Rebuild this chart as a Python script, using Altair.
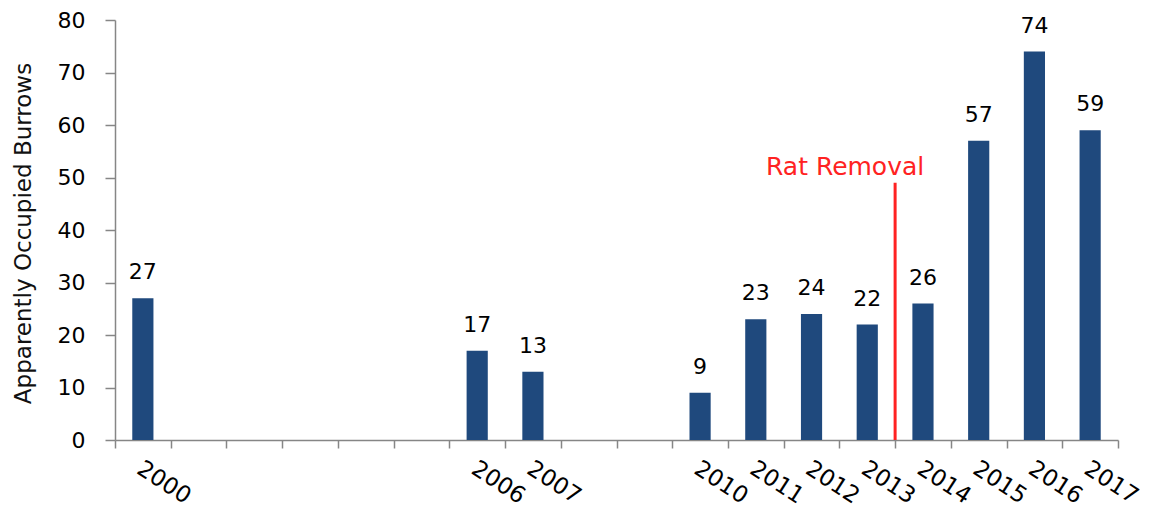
import altair as alt
import pandas as pd

all_years = ["2000", "2001", "2002", "2003", "2004", "2005", "2006", "2007", "2008",
             "2009", "2010", "2011", "2012", "2013", "2014", "2015", "2016", "2017"]
bar_years = ["2000", "2006", "2007", "2010", "2011", "2012", "2013", "2014", "2015", "2016", "2017"]
burrows = [27, 17, 13, 9, 23, 24, 22, 26, 57, 74, 59]
y_ticks = [0, 10, 20, 30, 40, 50, 60, 70, 80]

event_after_year = ["2013"]
event_line_top = [49]
event_label = ["Rat Removal"]
event_label_y = [50.5]

bars_df = pd.DataFrame({"year": bar_years, "aob": burrows})
event_df = pd.DataFrame({"year": event_after_year, "top": event_line_top,
                         "label": event_label, "ly": event_label_y})

FONT = "DejaVu Sans"
GREY = "#868686"
BLUE = "#1F497D"
RED = "#FF2222"
YTITLE = "Apparently Occupied Burrows"

shown = "[" + ",".join("'%s'" % y for y in bar_years) + "]"
label_expr = "indexof(%s, datum.label) >= 0 ? datum.label : ''" % shown

x_enc = alt.X(
    "year:N",
    scale=alt.Scale(domain=all_years, paddingInner=0, paddingOuter=0),
    axis=alt.Axis(
        title=None, labelAngle=33, labelAlign="left", labelBaseline="top",
        labelPadding=9, labelOffset=2, tickBand="extent", tickSize=8, tickColor=GREY,
        domainColor=GREY, labelFont=FONT, labelFontSize=23, labelColor="#000000",
        labelOverlap=False, tickWidth=1.5, domainWidth=1.5, labelExpr=label_expr,
    ),
)
y_enc = alt.Y(
    "aob:Q",
    scale=alt.Scale(domain=[0, 80]),
    axis=alt.Axis(
        values=y_ticks, title=YTITLE, titleFont=FONT, titleFontSize=23,
        titleFontWeight="normal", titleColor="#111111", titleX=-80, titleY=213,
        titleAngle=-90, titleBaseline="bottom", titleAlign="center",
        labelFont=FONT, labelFontSize=22, labelColor="#000000", labelPadding=20,
        tickSize=10, tickColor=GREY, domainColor=GREY, grid=False,
        tickWidth=1.5, domainWidth=1.5,
    ),
)

bars = alt.Chart(bars_df).mark_bar(
    width=alt.RelativeBandSize(0.38), color=BLUE
).encode(x=x_enc, y=y_enc)

values = alt.Chart(bars_df).mark_text(
    dy=-19, baseline="alphabetic", font=FONT, fontSize=22, color="#000000"
).encode(
    x=alt.X("year:N"),
    y=alt.Y("aob:Q", title=YTITLE),
    text=alt.Text("aob:Q"),
)

rule = alt.Chart(event_df).mark_rule(color=RED, strokeWidth=3).encode(
    x=alt.X("year:N", bandPosition=1),
    y=alt.Y("top:Q", title=YTITLE),
    y2=alt.datum(0),
)

rule_label = alt.Chart(event_df).mark_text(
    align="center", dx=-50, baseline="alphabetic", font=FONT, fontSize=25, color=RED
).encode(
    x=alt.X("year:N", bandPosition=1),
    y=alt.Y("ly:Q", title=YTITLE),
    text=alt.Text("label:N"),
)

chart = alt.layer(bars, values, rule, rule_label).properties(
    width=1003, height=420,
    autosize=alt.AutoSizeParams(type="none"),
    padding={"left": 107, "top": 12, "right": 30, "bottom": 80},
).configure_view(stroke=None)

chart.save("out.html", embed_options={"renderer": "svg", "actions": False})
